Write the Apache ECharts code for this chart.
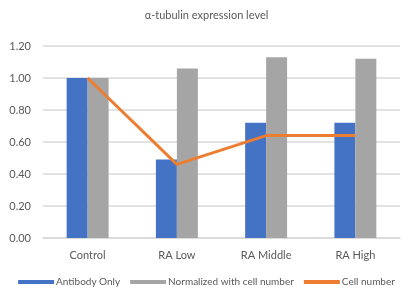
<!DOCTYPE html>
<html>
<head>
<meta charset="utf-8">
<script src="https://cdn.jsdelivr.net/npm/echarts@6/dist/echarts.min.js"></script>
<style>
  html, body { margin: 0; padding: 0; background: #fff; }
  #chart { width: 413px; height: 296px; }
</style>
</head>
<body>
<div id="chart"></div>
<script>
// data
const categories = ["Control", "RA Low", "RA Middle", "RA High"];
const antibodyOnly = [1.00, 0.49, 0.72, 0.72];
const normalized = [1.00, 1.06, 1.13, 1.12];
const cellNumber = [1.00, 0.46, 0.64, 0.64];

const myChart = echarts.init(document.getElementById("chart"));
const txt = "#595959";
const font = "Lato, 'Open Sans', sans-serif";

myChart.setOption({
  animation: false,
  title: {
    text: "α-tubulin expression level",
    left: "center",
    top: 5,
    textStyle: { fontSize: 11, fontWeight: "normal", color: txt, fontFamily: font },
  },
  legend: {
    bottom: 4,
    left: "center",
    padding: [5, 0, 5, 28],
    itemWidth: 36,
    itemHeight: 4,
    itemGap: 10,
    textStyle: { fontSize: 10, color: txt, fontFamily: font, padding: [0, 0, 0, -3] },
    data: [
      { name: "Antibody Only", icon: "rect" },
      { name: "Normalized with cell number", icon: "rect" },
      { name: "Cell number", icon: "rect" },
    ],
  },
  grid: { left: 43, right: 13, top: 46, bottom: 58 },
  xAxis: {
    type: "category",
    data: categories,
    axisTick: { show: false },
    axisLine: { lineStyle: { color: "#D9D9D9", width: 1.5 } },
    axisLabel: { color: txt, fontSize: 11, fontFamily: font, margin: 12 },
  },
  yAxis: {
    type: "value",
    min: 0,
    max: 1.2,
    interval: 0.2,
    axisLabel: {
      color: txt,
      fontSize: 11,
      fontFamily: font,
      margin: 12,
      formatter: (v) => v.toFixed(2),
    },
    splitLine: { lineStyle: { color: "#D9D9D9", width: 1.5 } },
  },
  series: [
    {
      name: "Antibody Only",
      type: "bar",
      data: antibodyOnly,
      barGap: "0%",
      barCategoryGap: "53%",
      itemStyle: { color: "#4472C4" },
    },
    {
      name: "Normalized with cell number",
      type: "bar",
      data: normalized,
      itemStyle: { color: "#A5A5A5" },
    },
    {
      name: "Cell number",
      type: "line",
      data: cellNumber,
      symbol: "none",
      lineStyle: { color: "#ED7D31", width: 3 },
      itemStyle: { color: "#ED7D31" },
    },
  ],
});
</script>
</body>
</html>
